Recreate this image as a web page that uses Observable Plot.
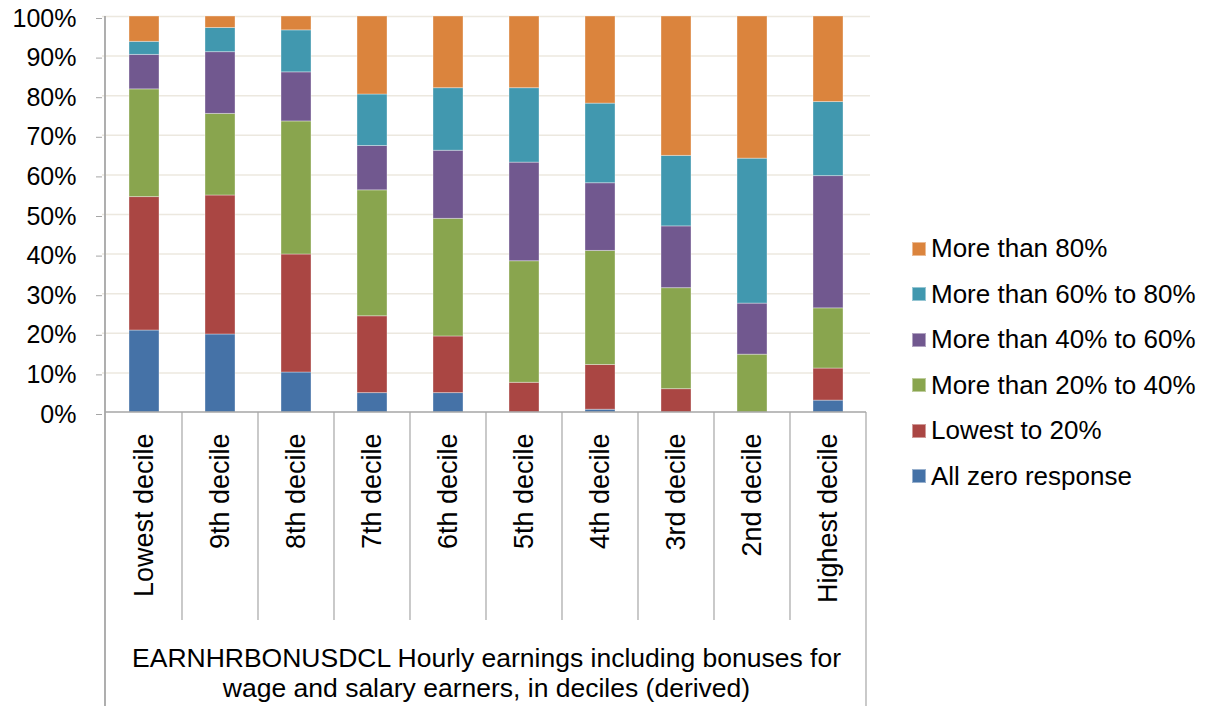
<!DOCTYPE html>
<html>
<head>
<meta charset="utf-8">
<script src="https://cdn.jsdelivr.net/npm/d3@7"></script>
<script src="https://cdn.jsdelivr.net/npm/@observablehq/plot@0.6"></script>
<style>
  html, body { margin: 0; padding: 0; background: #fff; }
  #wrap { position: relative; width: 1213px; height: 706px; font-family: "Liberation Sans", Arial, sans-serif; }
  #legend { position: absolute; left: 912px; top: 226px; }
  .item { display: flex; align-items: center; height: 45.5px; font-size: 26px; color: #000; white-space: nowrap; }
  .sw { width: 14px; height: 14px; margin-right: 5px; box-sizing: border-box; border: 1px solid rgba(255,255,255,0.45); }
</style>
</head>
<body>
<div id="wrap"><div id="legend"></div></div>
<script>
const categories = ["Lowest decile", "9th decile", "8th decile", "7th decile", "6th decile",
  "5th decile", "4th decile", "3rd decile", "2nd decile", "Highest decile"];
const seriesNames = ["All zero response", "Lowest to 20%", "More than 20% to 40%",
  "More than 40% to 60%", "More than 60% to 80%", "More than 80%"];
const seriesColors = ["#4572a7", "#aa4643", "#89a54e", "#71588f", "#4198af", "#db843d"];
const allZero      = [20.7, 19.7, 10.1,  4.9,  4.9,  0.0,  0.7,  0.0,  0.0,  3.0];
const lowestTo20   = [33.7, 35.1, 29.8, 19.4, 14.3,  7.5, 11.3,  5.9,  0.0,  8.1];
const from20to40   = [27.2, 20.6, 33.6, 31.8, 29.7, 30.7, 28.8, 25.5, 14.6, 15.2];
const from40to60   = [ 8.7, 15.6, 12.4, 11.2, 17.2, 24.9, 17.1, 15.6, 12.9, 33.4];
const from60to80   = [ 3.3,  6.1, 10.6, 13.0, 15.8, 18.8, 20.1, 17.8, 36.6, 18.7];
const moreThan80   = [ 6.4,  2.9,  3.5, 19.7, 18.1, 18.1, 22.0, 35.2, 35.9, 21.6];
const yTicks = [0, 10, 20, 30, 40, 50, 60, 70, 80, 90, 100];
const axisTitle = "EARNHRBONUSDCL Hourly earnings including bonuses for\nwage and salary earners, in deciles (derived)";

const seriesValues = [allZero, lowestTo20, from20to40, from40to60, from60to80, moreThan80];
const data = [];
categories.forEach((c, i) => {
  seriesNames.forEach((s, j) => data.push({category: c, series: s, value: seriesValues[j][i]}));
});

const font = "'Liberation Sans', Arial, sans-serif";

function frameLines(index, scales, values, dimensions) {
  const g = d3.create("svg:g");
  const x = scales.x;
  const bw = x.bandwidth ? x.bandwidth() : (x(categories[1]) - x(categories[0]));
  const y0 = scales.y(0), y100 = scales.y(100);
  const left = x(categories[0]);
  const right = x(categories[categories.length - 1]) + bw;
  const sepBottom = y0 + 208;
  categories.forEach((c, i) => {
    const xx = x(c) + bw;
    const last = i === categories.length - 1;
    g.append("line").attr("x1", xx).attr("x2", xx).attr("y1", y0)
      .attr("y2", last ? dimensions.height : sepBottom)
      .attr("stroke", "#a6a6a6").attr("stroke-width", 1.2);
  });
  g.append("line").attr("x1", left - 1).attr("x2", right).attr("y1", y0).attr("y2", y0)
    .attr("stroke", "#a6a6a6").attr("stroke-width", 1.5);
  g.append("line").attr("x1", left - 1).attr("x2", left - 1).attr("y1", y100).attr("y2", dimensions.height)
    .attr("stroke", "#a6a6a6").attr("stroke-width", 1.8);
  return g.node();
}

const chart = Plot.plot({
  width: 1213,
  height: 706,
  marginLeft: 102,
  marginRight: 343,
  marginTop: 16,
  marginBottom: 294,
  style: {fontFamily: font, color: "#000", background: "#fff"},
  x: {domain: categories, padding: 0},
  y: {domain: [0, 100]},
  color: {domain: seriesNames, range: seriesColors},
  marks: [
    Plot.ruleY(yTicks.slice(1), {stroke: "#ece8df", strokeWidth: 1.5}),
    Plot.barY(data, {x: "category", y: "value", fill: "series", order: seriesNames,
      insetLeft: 23, insetRight: 23, stroke: "#ffffff", strokeOpacity: 0.35, strokeWidth: 1}),
    Plot.axisY({ticks: yTicks, tickFormat: d => d + "%", tickSize: 6, tickPadding: 20,
      fontSize: 25, stroke: "#a6a6a6", label: null, dy: 2}),
    Plot.axisX({tickSize: 0, tickRotate: -90, tickPadding: 21, fontSize: 27, label: null}),
    frameLines,
    Plot.text([axisTitle], {frameAnchor: "bottom", lineAnchor: "middle", dy: 260, fontSize: 26.5, lineHeight: 1.13, fill: "#000"})
  ]
});
document.getElementById("wrap").prepend(chart);

const legend = document.getElementById("legend");
seriesNames.slice().reverse().forEach((s) => {
  const j = seriesNames.indexOf(s);
  const item = document.createElement("div");
  item.className = "item";
  const sw = document.createElement("span");
  sw.className = "sw";
  sw.style.background = seriesColors[j];
  item.appendChild(sw);
  item.appendChild(document.createTextNode(s));
  legend.appendChild(item);
});
</script>
</body>
</html>
